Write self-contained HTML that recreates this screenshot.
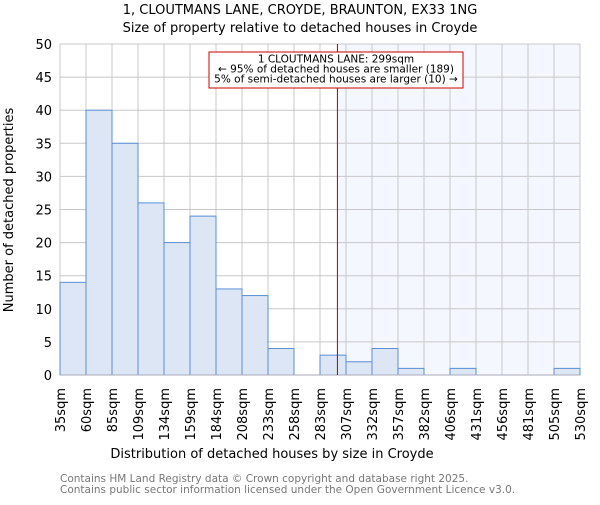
<!DOCTYPE html>
<html><head><meta charset="utf-8"><style>body{margin:0;background:#fff}svg{font-family:"DejaVu Sans","Liberation Sans",sans-serif}</style></head>
<body>
<svg id="c" width="600" height="500" xmlns="http://www.w3.org/2000/svg">
<text x="300" y="14" text-anchor="middle" font-size="13">1, CLOUTMANS LANE, CROYDE, BRAUNTON, EX33 1NG</text>
<text x="300" y="32" text-anchor="middle" font-size="13">Size of property relative to detached houses in Croyde</text>
<g id="plot"></g>
<text x="272" y="458" text-anchor="middle" font-size="13">Distribution of detached houses by size in Croyde</text>
<text transform="translate(13,210) rotate(-90)" text-anchor="middle" font-size="13">Number of detached properties</text>
<text x="60" y="482" font-size="10.5" fill="#777">Contains HM Land Registry data © Crown copyright and database right 2025.</text>
<text x="60" y="493" font-size="10.5" fill="#777">Contains public sector information licensed under the Open Government Licence v3.0.</text>
</svg>
<script>
const binLabels=["35sqm","60sqm","85sqm","109sqm","134sqm","159sqm","184sqm","208sqm","233sqm","258sqm","283sqm","307sqm","332sqm","357sqm","382sqm","406sqm","431sqm","456sqm","481sqm","505sqm","530sqm"];
const counts=[14,40,35,26,20,24,13,12,4,0,3,2,4,1,0,1,0,0,0,1];
const yTicks=[0,5,10,15,20,25,30,35,40,45,50];
const markerBin=10.67;
const NS="http://www.w3.org/2000/svg";
const g=document.getElementById('plot');
const X0=60,X1=580,Y0=375,Y1=44,YMAX=50;
const bw=(X1-X0)/counts.length;
const xs=i=>X0+i*bw;
const ys=v=>Y0-(v/YMAX)*(Y0-Y1);
function mk(t,a){const e=document.createElementNS(NS,t);for(const k in a)e.setAttribute(k,a[k]);g.appendChild(e);return e;}
const mx=xs(markerBin);
let sh=mk('rect',{x:mx,y:Y1,width:X1-mx,height:Y0-Y1,fill:'#f4f7fe'});


yTicks.forEach(t=>{
 let l=mk('line',{x1:X0,x2:X1,y1:ys(t),y2:ys(t),stroke:'#c8c8c8','stroke-width':1});
 
 
 let tx=mk('text',{x:X0-8,y:ys(t)+5,'text-anchor':'end','font-size':13});
 tx.textContent=t;
 
 
});
binLabels.forEach((lb,i)=>{
 let l=mk('line',{x1:xs(i),x2:xs(i),y1:Y1,y2:Y0,stroke:'#c8c8c8','stroke-width':1});
 
 
 let tx=mk('text',{transform:`translate(${xs(i)+5},388) rotate(-90)`,'text-anchor':'end','font-size':13});
 tx.textContent=lb;
 
 
});
counts.forEach((v,i)=>{
 if(v<=0)return;
 let r=mk('rect',{x:xs(i),y:ys(v),width:bw,height:Y0-ys(v),fill:'#dce6f4',stroke:'#5b8fd6','stroke-width':1});
 
 
});
let ax=mk('line',{x1:X0,x2:X1,y1:Y0,y2:Y0,stroke:'#aab','stroke-width':1});


let ml=mk('line',{x1:mx,x2:mx,y1:Y1,y2:Y0,stroke:'#b00000','stroke-width':1});


let box=mk('rect',{x:209,y:52,width:254,height:36,fill:'#fff',stroke:'#cc0000','stroke-width':1});


["1 CLOUTMANS LANE: 299sqm","← 95% of detached houses are smaller (189)","5% of semi-detached houses are larger (10) →"].forEach((s,i)=>{
 let t=mk('text',{x:336,y:62.5+i*10,'text-anchor':'middle','font-size':10.5});
 t.textContent=s;
 
 
});
</script>
</body></html>
